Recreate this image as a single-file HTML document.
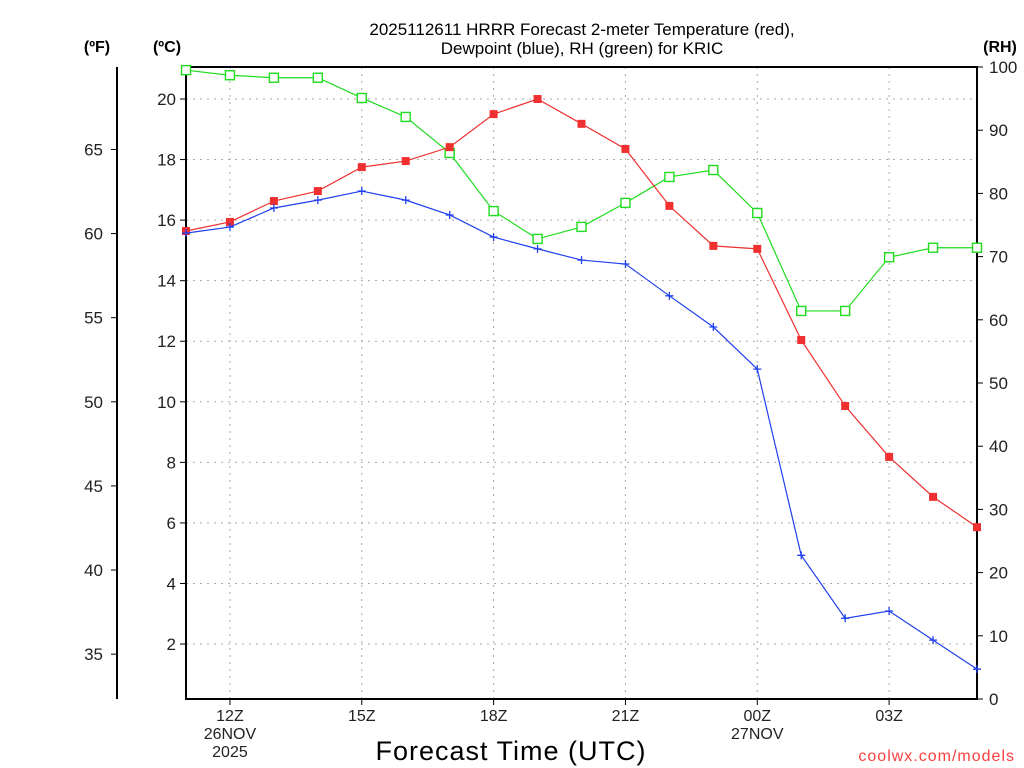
<!DOCTYPE html>
<html><head><meta charset="utf-8"><style>
body{margin:0;background:#fff;}
svg{display:block;font-family:"Liberation Sans",sans-serif;}
</style></head><body>
<svg id="chart" width="1024" height="768" viewBox="0 0 1024 768" xmlns="http://www.w3.org/2000/svg">
<g id="grid"></g>
<g id="axes"></g>
<g id="series"></g>
<text x="582" y="35" text-anchor="middle" font-size="17" fill="#000">2025112611 HRRR Forecast 2-meter Temperature (red),</text>
<text x="582" y="54" text-anchor="middle" font-size="17" fill="#000">Dewpoint (blue), RH (green) for KRIC</text>
<text x="97" y="52" text-anchor="middle" font-size="16" font-weight="bold">(ºF)</text>
<text x="167" y="52" text-anchor="middle" font-size="16" font-weight="bold">(ºC)</text>
<text x="1000" y="52" text-anchor="middle" font-size="16" font-weight="bold">(RH)</text>
<text x="511" y="760" text-anchor="middle" font-size="27" letter-spacing="1">Forecast Time (UTC)</text>
<text x="1015" y="761" text-anchor="end" font-size="16" fill="#ff4040" letter-spacing="1">coolwx.com/models</text>
</svg>
<script>
const hours = ["11Z","12Z","13Z","14Z","15Z","16Z","17Z","18Z","19Z","20Z","21Z","22Z","23Z","00Z","01Z","02Z","03Z","04Z","05Z"];
const tempC = [15.64,15.94,16.63,16.96,17.75,17.95,18.41,19.5,20.0,19.18,18.35,16.47,15.15,15.05,12.04,9.86,8.18,6.86,5.86];
const dewC = [15.57,15.77,16.40,16.66,16.96,16.66,16.17,15.44,15.05,14.68,14.55,13.5,12.47,11.08,4.93,2.85,3.09,2.13,1.17];
const rh = [99.5,98.7,98.3,98.3,95.1,92.1,86.4,77.2,72.8,74.7,78.5,82.6,83.7,76.9,61.4,61.4,69.9,71.4,71.4];
const cTicks = [2,4,6,8,10,12,14,16,18,20];
const fTicks = [35,40,45,50,55,60,65];
const rhTicks = [0,10,20,30,40,50,60,70,80,90,100];
const xTickLabels = [["12Z","26NOV","2025"],["15Z"],["18Z"],["21Z"],["00Z","27NOV"],["03Z"]];
const xTickIdx = [1,4,7,10,13,16];

const L=186,R=977,T=67,B=699;
const NS="http://www.w3.org/2000/svg";
const xs=i=>L+(R-L)*i/(hours.length-1);
const yC=c=>704.6-c*30.28;
const yF=f=>yC((f-32)/1.8);
const yRH=v=>B-(B-T)*v/100;
function mk(tag,attrs,parent,text){const e=document.createElementNS(NS,tag);for(const k in attrs)e.setAttribute(k,attrs[k]);if(text!==undefined)e.textContent=text;parent.appendChild(e);return e;}
const grid=document.getElementById('grid'),axes=document.getElementById('axes'),ser=document.getElementById('series');

cTicks.forEach(c=>{const y=yC(c);
 const g=mk('line',{x1:L,x2:R,y1:y,y2:y,stroke:'#aaa','stroke-dasharray':'2,5'},grid);
 
 
 mk('line',{x1:L-6,x2:L,y1:y,y2:y,stroke:'#000'},axes);
 const t=mk('text',{x:L-10,y:y+6,'text-anchor':'end','font-size':17,fill:'#222'},axes,String(c));
 
 
});
xTickIdx.forEach((idx,k)=>{const x=xs(idx);
 const g=mk('line',{x1:x,x2:x,y1:T,y2:B,stroke:'#aaa','stroke-dasharray':'2,5'},grid);
 
 
 mk('line',{x1:x,x2:x,y1:B,y2:B+6,stroke:'#000'},axes);
 xTickLabels[k].forEach((s,j)=>{const t=mk('text',{x:x,y:B+22+j*18,'text-anchor':'middle','font-size':16,fill:'#222'},axes,s);
  
  });
});
fTicks.forEach(f=>{const y=yF(f);
 mk('line',{x1:111,x2:117,y1:y,y2:y,stroke:'#000'},axes);
 const t=mk('text',{x:103,y:y+6,'text-anchor':'end','font-size':17,fill:'#222'},axes,String(f));
 
 
});
rhTicks.forEach(v=>{const y=yRH(v);
 mk('line',{x1:R,x2:R+6,y1:y,y2:y,stroke:'#000'},axes);
 const t=mk('text',{x:989,y:y+6,'text-anchor':'start','font-size':17,fill:'#222'},axes,String(v));
 
 
});
mk('rect',{x:L,y:T,width:R-L,height:B-T,fill:'none',stroke:'#000','stroke-width':2},axes);
mk('line',{x1:117,x2:117,y1:T,y2:B,stroke:'#000','stroke-width':2},axes);

function series(vals,yf,color,marker,name){
 const pts=vals.map((v,i)=>xs(i)+','+yf(v)).join(' ');
 const pl=mk('polyline',{points:pts,fill:'none',stroke:color,'stroke-width':1.2},ser);
 
 
 vals.forEach((v,i)=>{const x=xs(i),y=yf(v);let m;
  if(marker==='fill') m=mk('rect',{x:x-4,y:y-4,width:8,height:8,fill:color},ser);
  else if(marker==='open') m=mk('rect',{x:x-4.5,y:y-4.5,width:9,height:9,fill:'#fff',stroke:color,'stroke-width':1.4},ser);
  else m=mk('path',{d:`M${x-4},${y}H${x+4}M${x},${y-4}V${y+4}`,stroke:color,'stroke-width':1.3},ser);
  
  });
}
series(rh,yRH,'#1fdc1f','open','rh');
series(tempC,yC,'#f03030','fill','temperature');
series(dewC,yC,'#2040f0','plus','dewpoint');
</script>
</body></html>
